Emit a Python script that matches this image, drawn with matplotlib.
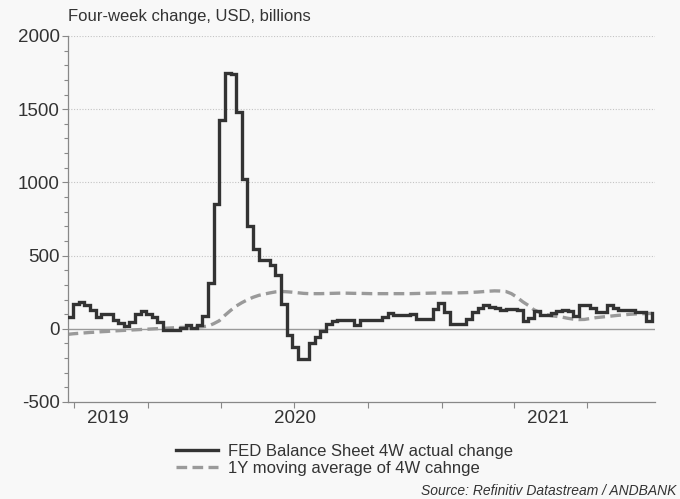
import matplotlib
matplotlib.use("Agg")
import matplotlib.pyplot as plt
import matplotlib.dates as mdates
import pandas as pd
import numpy as np

plt.rcParams['font.family'] = ['Liberation Sans', 'DejaVu Sans']

# ---- data (weekly) ----
start_date = "2019-09-23"
fed_4w_change = [
    80, 172, 183, 160, 126, 81, 99, 99, 58, 40,
    22, 46, 104, 119, 104, 81, 46, -5, -11, -8,
    5, 27, 7, 23, 85, 315, 855, 1428, 1746, 1740,
    1480, 1020, 700, 547, 472, 472, 433, 370, 167, -44,
    -124, -204, -204, -95, -56, -12, 31, 50, 63, 63,
    63, 24, 58, 58, 58, 63, 83, 108, 92, 92,
    92, 99, 69, 69, 65, 135, 174, 115, 33, 30,
    35, 66, 112, 143, 165, 150, 143, 128, 137, 137,
    130, 55, 75, 120, 97, 97, 110, 120, 126, 120,
    88, 163, 160, 140, 118, 118, 162, 143, 128, 128,
    126, 118, 113, 53, 108,
]
ma_1y = [
    -38, -34, -31, -28, -25, -23, -20, -18, -15, -13,
    -11, -9, -7, -5, -3, -1, 1, 3, 5, 7,
    9, 10, 11, 12, 14, 18, 35, 55, 92, 125,
    155, 178, 198, 215, 228, 237, 245, 252, 255, 253,
    250, 246, 242, 240, 240, 240, 241, 242, 243, 244,
    243, 242, 242, 241, 240, 240, 240, 240, 240, 240,
    240, 240, 241, 242, 243, 244, 245, 245, 245, 245,
    246, 247, 249, 251, 254, 257, 259, 258, 255, 240,
    215, 185, 160, 130, 112, 98, 90, 85, 80, 72,
    66, 63, 64, 70, 76, 80, 84, 88, 92, 95,
    99, 101, 103, 104, 105,
]
year_labels = ["2019", "2020", "2021"]
y_ticks = [-500, 0, 500, 1000, 1500, 2000]
series_names = ["FED Balance Sheet 4W actual change", "1Y moving average of 4W cahnge"]

dates = pd.date_range(start_date, periods=len(fed_4w_change), freq="7D")

bg = "#f8f8f8"
fig = plt.figure(figsize=(6.8, 4.99), dpi=100, facecolor=bg)
ax = fig.add_axes([0.1, 0.1944, 0.863, 0.7335], facecolor=bg)

x_left = mdates.date2num(pd.Timestamp("2019-10-01")) - 7.5
x_right = mdates.date2num(pd.Timestamp("2021-07-01")) + 84.7

for y in [500, 1000, 1500, 2000]:
    ax.axhline(y, color="#c4c4c4", lw=0.8, ls=(0, (1, 1.5)), zorder=0)
ax.axhline(0, color="#9a9a9a", lw=1.0, zorder=1)

l1, = ax.plot(dates, fed_4w_change, drawstyle="steps-post", color="#333333",
              lw=2.4, solid_joinstyle="miter", zorder=3)
l2, = ax.plot(dates, ma_1y, color="#9a9a9a", lw=2.4, ls=(0, (3.2, 1.6)), zorder=2)

ax.set_xlim(x_left, x_right)
ax.set_ylim(-500, 2000)

# y axis
ax.set_yticks(y_ticks)
ax.set_yticklabels([str(v) for v in y_ticks])
ax.yaxis.set_minor_locator(matplotlib.ticker.MultipleLocator(100))
ax.tick_params(axis="y", which="major", length=4, width=0.8, color="#888888",
               labelsize=13.5, labelcolor="#333333", pad=2)
ax.tick_params(axis="y", which="minor", length=3, width=0.8, color="#888888")

# x axis: quarterly ticks, year labels centered on visible part of each year
q_ticks = pd.date_range("2019-10-01", "2021-07-01", freq="QS")
ax.set_xticks(mdates.date2num(q_ticks))
ax.set_xticklabels([""] * len(q_ticks))
ax.tick_params(axis="x", which="major", length=4, width=0.8, color="#888888")
j20 = mdates.date2num(pd.Timestamp("2020-01-01"))
j21 = mdates.date2num(pd.Timestamp("2021-01-01"))
label_pos = [(x_left + j20) / 2, (j20 + j21) / 2, (j21 + x_right) / 2]
ax.set_xticks(label_pos, minor=True)
ax.set_xticklabels(year_labels, minor=True)
ax.tick_params(axis="x", which="minor", length=0, labelsize=13.5,
               labelcolor="#333333", pad=6)

for s in ["top", "right"]:
    ax.spines[s].set_visible(False)
for s in ["left", "bottom"]:
    ax.spines[s].set_color("#888888")
    ax.spines[s].set_linewidth(0.9)

fig.text(68 / 680, 1 - 17 / 499, "Four-week change, USD, billions", fontsize=12,
         color="#333333", ha="left", va="center")

leg = fig.legend([l1, l2], series_names, loc="upper left",
                 bbox_to_anchor=(176 / 680, 1 - 444 / 499), frameon=False,
                 fontsize=12, handlelength=2.5, handletextpad=0.6,
                 labelspacing=0.1, borderaxespad=0, borderpad=0)
for t in leg.get_texts():
    t.set_color("#333333")

fig.text(676 / 680, 1 - 491 / 499, "Source: Refinitiv Datastream / ANDBANK",
         fontsize=10, style="italic", color="#333333", ha="right", va="center")

fig.savefig("out.png", dpi=100, facecolor=bg)
